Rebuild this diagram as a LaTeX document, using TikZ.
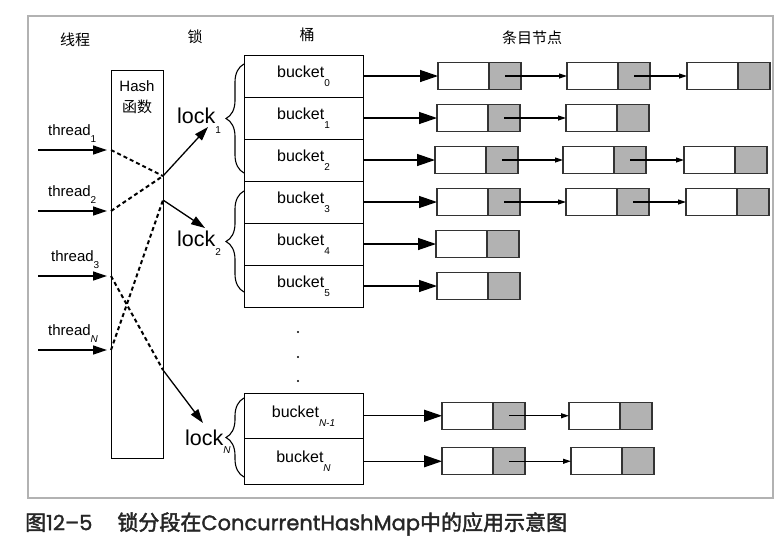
\documentclass[tikz,border=0pt]{standalone}
\usepackage{fontspec}
\setmainfont{Liberation Sans}
\newfontfamily\cjk{Noto Sans CJK SC}
\newfontfamily\capcjk{Noto Sans CJK SC}[FakeBold=2]
\newfontfamily\caplat{Poppins}[FakeBold=1.5]
\usetikzlibrary{positioning,arrows.meta,decorations.pathreplacing}
\newcommand{\subidx}[2][7pt]{\raisebox{-#1}{\fontsize{10}{10}\selectfont #2}}

\begin{document}
\begin{tikzpicture}[
        x=1pt, y=-1pt,
        outerframe/.style={draw=black!30, line width=1.5pt},
        header/.style={font=\cjk\fontsize{15}{18}\selectfont},
        hashbox/.style={draw, line width=1pt, minimum width=52pt, minimum height=388pt, outer sep=0pt},
        threadlbl/.style={anchor=base west, inner sep=0pt, font=\fontsize{15}{18}\selectfont},
        locklbl/.style={anchor=base west, inner sep=0pt, font=\fontsize{21.5}{24}\selectfont},
        bucketbox/.style={draw, line width=1pt, minimum width=119pt, minimum height=42pt, outer sep=0pt, inner sep=0pt, font=\fontsize{16}{18}\selectfont},
        cellw/.style={draw=black!80, line width=1.3pt, fill=white, minimum width=51pt, minimum height=27pt, outer sep=0pt, inner sep=0pt},
        cellg/.style={cellw, fill=black!30, minimum width=32pt},
        into/.style={draw, line width=1.3pt, -{Triangle[length=18pt,width=12pt]}},
        feed/.style={draw, line width=1.3pt, -{Triangle[length=14pt,width=9pt]}},
        link/.style={draw, line width=1.1pt, -{Triangle[length=8pt,width=5pt]}},
        hop/.style={draw, line width=2pt, dash pattern=on 4pt off 3pt},
        grp/.style={draw, line width=1.1pt, decorate, decoration={brace, amplitude=18pt}}
    ]
    \useasboundingbox (0,0) rectangle (780,550);
    \draw[outerframe] (28,16) rectangle (773,498);

    % column headers
    \node[header] (hthr) at (75,40) {线程};
    \node[header] (hlock) at (195,37) {锁};
    \node[header] (hbkt) at (307,35) {桶};
    \node[header] (hent) at (532,38) {条目节点};

    % hash function
    \node[hashbox] (hash) at (137,264) {};
    \node[font=\fontsize{15}{18}\selectfont] (hashen) at (137,86) {Hash};
    \node[header] (hashcn) at (137,107) {函数};

    % threads
    \node[threadlbl] (thr1) at (48,135) {thread\subidx{1}};
    \node[threadlbl] (thr2) at (48,196) {thread\subidx{2}};
    \node[threadlbl] (thr3) at (51,261) {thread\subidx{3}};
    \node[threadlbl] (thrN) at (48,335) {thread\subidx{\itshape N}};
    \foreach \t/\yy in {1/150, 2/211, 3/276, N/350} {
        \coordinate (s\t) at (38,\yy);
        \coordinate (in\t) at (hash.west |- s\t);
        \draw[feed, shorten >=4pt] (s\t) -- (in\t);
    }
    \coordinate (o1) at (hash.east |- 0,176);
    \coordinate (o2) at (hash.east |- 0,200);
    \coordinate (oN) at (hash.east |- 0,370);
    \draw[hop] (in1) -- (o1);
    \draw[hop] (in2) -- (o1);
    \draw[hop] (in3) -- (oN);
    \draw[hop] (inN) -- (o2);

    % locks
    \node[locklbl] (lock1) at (177,123) {lock\subidx[10pt]{1}};
    \node[locklbl] (lock2) at (177,246) {lock\subidx[9pt]{2}};
    \node[locklbl] (lockN) at (185,445) {lock\subidx[8pt]{\itshape N}};
    \coordinate (a1) at (208,127);
    \coordinate (a2) at (205,228);
    \coordinate (aN) at (203,423);
    \draw[feed] (o1) -- (a1);
    \draw[feed] (o2) -- (a2);
    \draw[feed] (oN) -- (aN);

    % buckets
    \node[bucketbox] (b0) at (303.5,76) {bucket\subidx[9pt]{0}};
    \foreach \i [remember=\i as \j (initially 0)] in {1,...,5}
        \node[bucketbox, below=0pt of b\j] (b\i) {bucket\subidx[9pt]{\i}};
    \foreach \yy in {332,357,381}
        \fill (298,\yy) circle (1.2pt);
    \node[bucketbox, minimum height=45.5pt] (bN1) at (303.5,415.75) {bucket\subidx[9pt]{\itshape N-1}};
    \node[bucketbox, minimum height=45.5pt, below=0pt of bN1] (bN) {bucket\subidx[9pt]{\itshape N}};

    % lock groups
    \draw[grp] ([yshift=8pt]b2.south west) -- ([yshift=-9pt]b0.north west);
    \draw[grp] ([yshift=15pt]b5.south west) -- ([yshift=-10pt]b3.north west);
    \draw[grp] ([yshift=7pt]bN.south west) -- ([yshift=-5pt]bN1.north west);

    % entry chains
    \foreach \r/\xs in {0/{438,567,687}, 1/{437,566}, 2/{435,563,684}, 3/{437,566,686},
                        4/{436}, 5/{437}, N1/{442,569}, N/{442,571}} {
        \foreach \x [count=\k, remember=\k as \p (initially 0)] in \xs {
            \node[cellw, anchor=west] (e\r-\k) at (\x,0 |- b\r) {};
            \node[cellg, right=0pt of e\r-\k] (g\r-\k) {};
            \ifnum\k>1 \draw[link] (g\r-\p.center) -- (e\r-\k.west); \fi
        }
        \draw[into] (b\r.east) -- (e\r-1.west);
    }

    % caption
    \node[anchor=west, inner sep=0pt, text=black!85, font=\fontsize{21}{24}\selectfont] (caption)
        at (25,524) {\capcjk 图\caplat 12–5\hspace{25pt}\capcjk 锁分段在\caplat ConcurrentHashMap\capcjk 中的应用示意图};
\end{tikzpicture}
\end{document}
